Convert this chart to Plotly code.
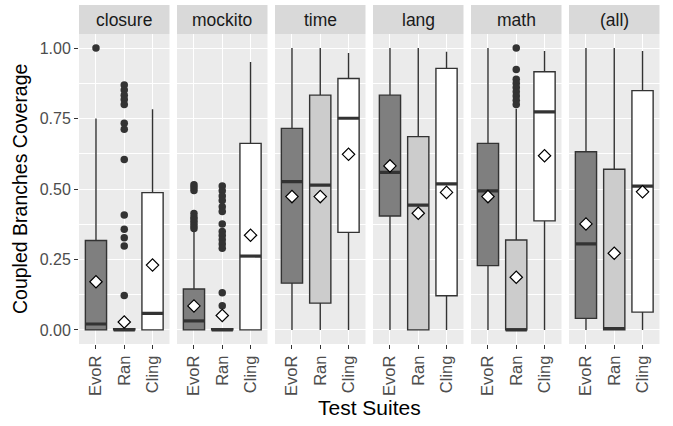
import plotly.graph_objects as go

suites = ["closure", "mockito", "time", "lang", "math", "(all)"]
methods = ["EvoR", "Ran", "Cling"]

# per suite: values for [EvoR, Ran, Cling]
lower = {
    "closure": [0.0, 0.0, 0.0],
    "mockito": [0.0, 0.0, 0.0],
    "time":    [0.0, 0.0, 0.0],
    "lang":    [0.0, 0.0, 0.0],
    "math":    [0.0, 0.0, 0.0],
    "(all)":   [0.0, 0.0, 0.0],
}
q1 = {
    "closure": [0.0, 0.0, 0.0],
    "mockito": [0.0, 0.0, 0.0],
    "time":    [0.166, 0.095, 0.346],
    "lang":    [0.404, 0.0, 0.121],
    "math":    [0.228, 0.0, 0.387],
    "(all)":   [0.041, 0.0, 0.063],
}
median = {
    "closure": [0.021, 0.0, 0.059],
    "mockito": [0.032, 0.0, 0.262],
    "time":    [0.526, 0.514, 0.751],
    "lang":    [0.559, 0.443, 0.518],
    "math":    [0.493, 0.0, 0.774],
    "(all)":   [0.305, 0.005, 0.510],
}
q3 = {
    "closure": [0.317, 0.004, 0.487],
    "mockito": [0.145, 0.004, 0.662],
    "time":    [0.715, 0.833, 0.892],
    "lang":    [0.833, 0.686, 0.928],
    "math":    [0.662, 0.319, 0.916],
    "(all)":   [0.632, 0.570, 0.849],
}
upper = {
    "closure": [0.75, 0.004, 0.783],
    "mockito": [0.355, 0.004, 0.951],
    "time":    [1.0, 1.0, 0.983],
    "lang":    [1.0, 1.0, 0.987],
    "math":    [1.0, 0.785, 0.99],
    "(all)":   [1.0, 1.0, 0.99],
}
means = {
    "closure": [0.171, 0.028, 0.23],
    "mockito": [0.085, 0.051, 0.336],
    "time":    [0.473, 0.473, 0.623],
    "lang":    [0.582, 0.414, 0.488],
    "math":    [0.473, 0.187, 0.618],
    "(all)":   [0.376, 0.272, 0.49],
}
outliers = {
    "closure": [
        [1.0],
        [0.869, 0.851, 0.833, 0.818, 0.80, 0.733, 0.712, 0.605,
         0.408, 0.357, 0.327, 0.298, 0.122],
        [],
    ],
    "mockito": [
        [0.515, 0.505, 0.495, 0.413, 0.40, 0.39, 0.38, 0.37, 0.36],
        [0.511, 0.494, 0.475, 0.459, 0.437, 0.420, 0.376, 0.349, 0.335,
         0.32, 0.305, 0.29, 0.132, 0.086],
        [],
    ],
    "time": [[], [], []],
    "lang": [[], [], []],
    "math": [
        [],
        [1.0, 0.924, 0.889, 0.875, 0.86, 0.845, 0.83, 0.815, 0.80],
        [],
    ],
    "(all)": [[], [], []],
}

fills = ["#7f7f7f", "#cccccc", "#ffffff"]
y_ticks = [0.0, 0.25, 0.5, 0.75, 1.0]
y_ticktext = ["0.00", "0.25", "0.50", "0.75", "1.00"]

FONT = "Liberation Sans, Arial, sans-serif"
W, H = 673, 426
ML, MR, MT, MB = 79, 13, 5, 82
PW = W - ML - MR
PH = H - MT - MB
panel_w = 90.5
panel_step = 98
ytop = (PH - 29) / PH  # panel top in paper coords (strip ~29px)
box_w = 0.75

fig = go.Figure()
shapes = []
annotations = []
layout_axes = {}

for i, s in enumerate(suites):
    idx = "" if i == 0 else str(i + 1)
    xa, ya = "x" + idx, "y" + idx
    for j, m in enumerate(methods):
        pos = j + 1
        fig.add_trace(go.Box(
            x=[pos], q1=[q1[s][j]], median=[median[s][j]], q3=[q3[s][j]],
            lowerfence=[lower[s][j]], upperfence=[upper[s][j]],
            width=box_w, fillcolor=fills[j],
            line=dict(color="#333333", width=1.4), whiskerwidth=0,
            boxpoints=False, showlegend=False, hoverinfo="skip",
            xaxis=xa, yaxis=ya))
        # thicker median (ggplot fatten)
        fig.add_trace(go.Scatter(
            x=[pos - box_w / 2, pos + box_w / 2], y=[median[s][j], median[s][j]],
            mode="lines", line=dict(color="#333333", width=3.2),
            showlegend=False, hoverinfo="skip", xaxis=xa, yaxis=ya))
        if outliers[s][j]:
            fig.add_trace(go.Scatter(
                x=[pos] * len(outliers[s][j]), y=outliers[s][j], mode="markers",
                marker=dict(color="#333333", size=7.5),
                showlegend=False, hoverinfo="skip", xaxis=xa, yaxis=ya))
        fig.add_trace(go.Scatter(
            x=[pos], y=[means[s][j]], mode="markers",
            marker=dict(symbol="diamond", color="white", size=9.5,
                        line=dict(color="black", width=1.2)),
            showlegend=False, hoverinfo="skip", xaxis=xa, yaxis=ya))

    x0 = (i * panel_step) / PW
    x1 = (i * panel_step + panel_w) / PW
    layout_axes["xaxis" + idx] = dict(
        domain=[x0, min(x1, 1.0)], anchor=ya, range=[0.4, 3.6],
        tickmode="array", tickvals=[1, 2, 3], ticktext=methods,
        tickangle=-90, tickfont=dict(size=16.5, color="#4d4d4d", family=FONT),
        ticks="outside", ticklen=4, tickcolor="#333333", tickwidth=1.1,
        showgrid=True, gridcolor="white", gridwidth=1.1,
        zeroline=False, showline=False, fixedrange=True)
    layout_axes["yaxis" + idx] = dict(
        domain=[0, ytop], anchor=xa, range=[-0.05, 1.05],
        tickmode="array", tickvals=y_ticks, ticktext=y_ticktext,
        showticklabels=(i == 0),
        tickfont=dict(size=16, color="#4d4d4d", family=FONT),
        ticks="outside" if i == 0 else "", ticklen=4, tickcolor="#333333",
        tickwidth=1.1,
        showgrid=True, gridcolor="white", gridwidth=1.1,
        minor=dict(tickvals=[0.125, 0.375, 0.625, 0.875], showgrid=True,
                   gridcolor="white", gridwidth=0.5, ticks=""),
        zeroline=False, showline=False, fixedrange=True)
    if i > 0:
        layout_axes["yaxis" + idx]["matches"] = "y"

    shapes.append(dict(type="rect", xref="paper", yref="paper",
                       x0=x0, x1=min(x1, 1.0), y0=ytop, y1=1.0,
                       fillcolor="#d9d9d9", line=dict(width=0), layer="below"))
    annotations.append(dict(text=s, xref="paper", yref="paper",
                            x=(x0 + min(x1, 1.0)) / 2, y=(ytop + 1.0) / 2,
                            xanchor="center", yanchor="middle", showarrow=False,
                            font=dict(size=17.5, color="#1a1a1a", family=FONT)))

annotations.append(dict(text="Coupled Branches Coverage", xref="paper", yref="paper",
                        x=(20 - ML) / PW, y=ytop / 2, textangle=-90,
                        xanchor="center", yanchor="middle", showarrow=False,
                        font=dict(size=19.5, color="black", family=FONT)))
annotations.append(dict(text="Test Suites", xref="paper", yref="paper",
                        x=((79 + 660) / 2 - ML) / PW, y=-(407 - (H - MB)) / PH,
                        xanchor="center", yanchor="middle", showarrow=False,
                        font=dict(size=21, color="black", family=FONT)))

fig.update_layout(
    width=W, height=H,
    margin=dict(l=ML, r=MR, t=MT, b=MB, pad=0),
    paper_bgcolor="white", plot_bgcolor="#ebebeb",
    font=dict(family=FONT),
    shapes=shapes, annotations=annotations,
    showlegend=False, boxmode="overlay",
    **layout_axes)

fig.write_html("out.html", config={"displayModeBar": False},
               post_script="document.body.style.margin='0';")
